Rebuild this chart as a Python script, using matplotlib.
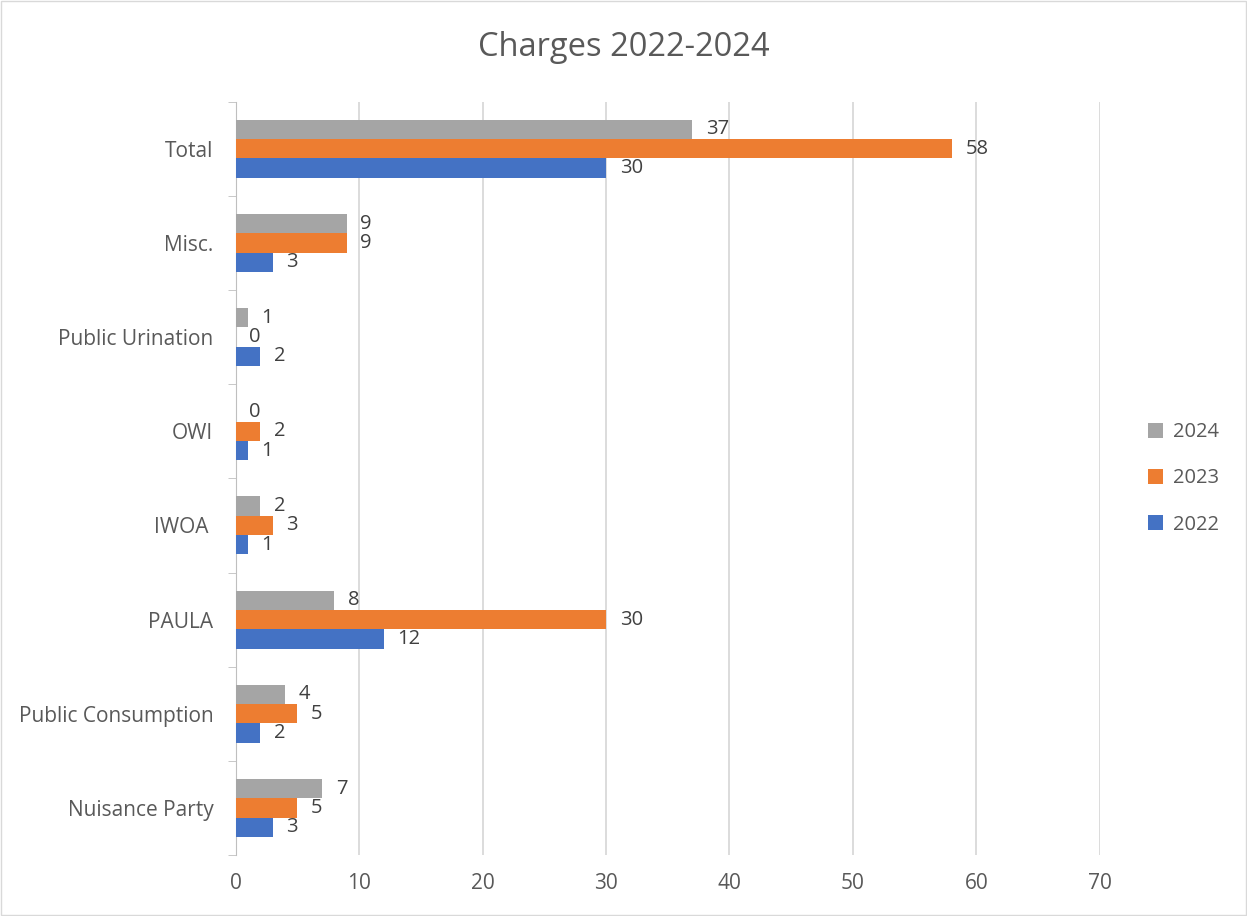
import matplotlib.pyplot as plt
import numpy as np

categories = ['Nuisance Party', 'Public Consumption', 'PAULA', 'IWOA ', 'OWI',
              'Public Urination', 'Misc.', 'Total']
vals_2022 = [3, 2, 12, 1, 1, 2, 3, 30]
vals_2023 = [5, 5, 30, 3, 2, 0, 9, 58]
vals_2024 = [7, 4, 8, 2, 0, 1, 9, 37]

series = [('2022', vals_2022, '#4472C4'),
          ('2023', vals_2023, '#ED7D31'),
          ('2024', vals_2024, '#A5A5A5')]

txt = '#595959'
plt.rcParams['font.family'] = ['Open Sans', 'DejaVu Sans']

fig = plt.figure(figsize=(12.47, 9.16), dpi=100)
ax = fig.add_axes([0.189, 0.0666, 0.693, 0.8224])

y = np.arange(len(categories))
h = 0.205
for i, (name, vals, col) in enumerate(series):
    pos = y + (i - 1) * h
    ax.barh(pos, vals, height=h, color=col, label=name, zorder=3)
    for p, v in zip(pos, vals):
        ax.text(v + 1.1, p, str(v), va='center', ha='left', fontsize=14.5, color='#404040')

ax.set_xlim(0, 70)
ax.set_ylim(-0.5, len(categories) - 0.5)
ax.set_xticks(range(0, 71, 10))
ax.set_yticks(y)
ax.set_yticklabels(categories)
ax.set_yticks(np.arange(-0.5, len(categories), 1), minor=True)
ax.tick_params(axis='y', which='major', length=0, pad=16, labelsize=15, labelcolor=txt)
ax.tick_params(axis='y', which='minor', length=6, color='#BFBFBF', direction='out')
ax.tick_params(axis='x', length=0, pad=13, labelsize=15, labelcolor=txt)
ax.grid(axis='x', color='#D9D9D9', linewidth=1.3, zorder=0)
for s in ['top', 'right', 'bottom']:
    ax.spines[s].set_visible(False)
ax.spines['left'].set_color('#BFBFBF')

fig.text(0.5, 1 - 48 / 916, 'Charges 2022-2024', fontsize=23.5, color=txt,
         ha='center', va='center')

handles, labels = ax.get_legend_handles_labels()
ax.legend(handles[::-1], labels[::-1], loc='center left', bbox_to_anchor=(1.035, 0.5),
          frameon=False, fontsize=14.5, labelcolor=txt, handlelength=0.75, handleheight=0.75,
          labelspacing=1.3, handletextpad=0.5)

fig.patches.append(plt.Rectangle((0.001, 0.001), 0.998, 0.998, transform=fig.transFigure,
                                 fill=False, edgecolor='#D9D9D9', linewidth=1))
fig.savefig('out.png', dpi=100)
